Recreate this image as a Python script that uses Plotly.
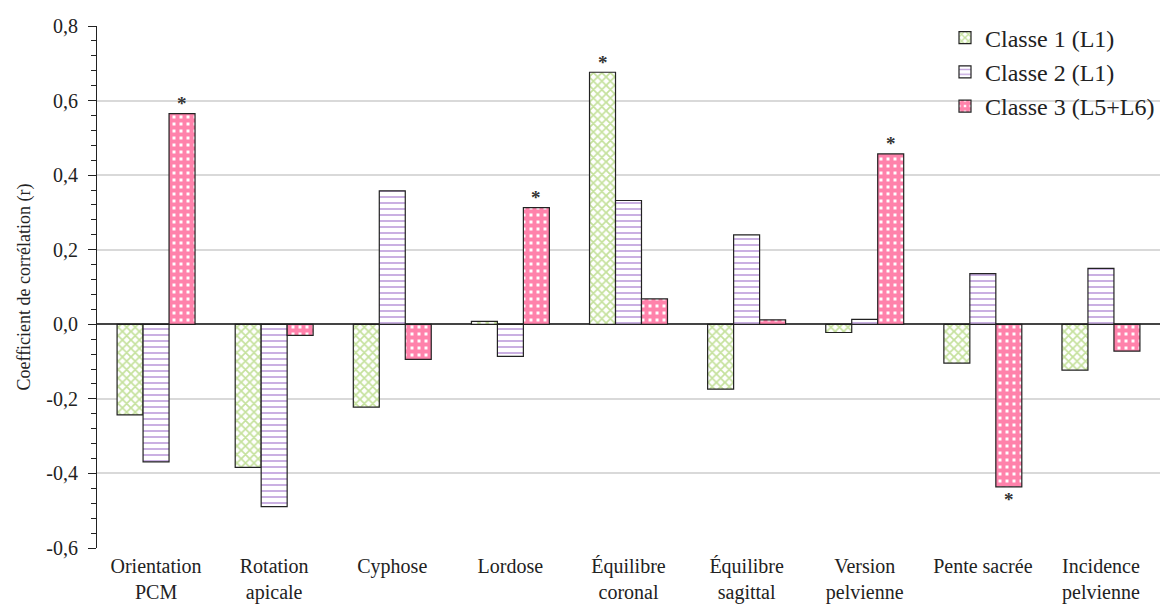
import plotly.graph_objects as go

categories = ["Orientation<br>PCM", "Rotation<br>apicale", "Cyphose", "Lordose",
              "Équilibre<br>coronal", "Équilibre<br>sagittal", "Version<br>pelvienne",
              "Pente sacrée", "Incidence<br>pelvienne"]
classe1 = [-0.243, -0.384, -0.222, 0.008, 0.676, -0.174, -0.022, -0.104, -0.123]
classe2 = [-0.369, -0.489, 0.358, -0.086, 0.332, 0.240, 0.013, 0.136, 0.150]
classe3 = [0.565, -0.030, -0.094, 0.313, 0.068, 0.012, 0.457, -0.436, -0.072]
series_names = ["Classe 1 (L1)", "Classe 2 (L1)", "Classe 3 (L5+L6)"]
tick_vals = [-0.6, -0.4, -0.2, 0.0, 0.2, 0.4, 0.6, 0.8]
tick_text = ["-0,6", "-0,4", "-0,2", "0,0", "0,2", "0,4", "0,6", "0,8"]
# significance markers: (series index, category index)
signif = [(2, 0), (2, 3), (0, 4), (2, 6), (2, 7)]

font = "Liberation Serif, Times New Roman, serif"
fig = go.Figure()
patterns = [
    dict(shape="x", fgcolor="#8cc43c", bgcolor="white", size=6, solidity=0.5),
    dict(shape="-", fgcolor="#8a4fbf", bgcolor="white", size=6, solidity=0.3),
    dict(shape="+", fgcolor="#ff0558", bgcolor="white", size=7, solidity=0.82),
]
all_series = [classe1, classe2, classe3]
for name, vals, pat in zip(series_names, all_series, patterns):
    fig.add_trace(go.Bar(
        x=categories, y=vals, name=name,
        marker=dict(pattern=pat, color="white", line=dict(color="#222222", width=1.2)),
    ))

W, H = 1160, 601
L, R, T, B = 89, 8, 16, 61
bargap = 0.34
bar_px = (W - L - R) / len(categories) * (1 - bargap) / 3
for si, ci in signif:
    v = all_series[si][ci]
    fig.add_annotation(
        x=categories[ci], y=v, xref="x", yref="y",
        text="<b>*</b>", showarrow=False,
        xshift=(si - 1) * bar_px,
        yshift=10 if v > 0 else -13,
        font=dict(family=font, size=19, color="#333333"),
    )

fig.update_layout(
    width=W, height=H,
    margin=dict(l=L, r=R, t=T, b=B),
    barmode="group", bargap=bargap, bargroupgap=0,
    plot_bgcolor="white", paper_bgcolor="white",
    font=dict(family=font, size=19, color="#222222"),
    legend=dict(x=1.0, y=1.02, xanchor="right", yanchor="top",
                font=dict(family=font, size=24, color="#222222"),
                bgcolor="rgba(255,255,255,0)", tracegroupgap=0, itemwidth=30),
    showlegend=True,
)
fig.update_yaxes(
    range=[-0.6, 0.8], tickvals=tick_vals, ticktext=tick_text,
    showgrid=True, gridcolor="#d9d9d9", gridwidth=1.5,
    zeroline=True, zerolinecolor="#444444", zerolinewidth=1.5,
    showline=True, linecolor="#222222", linewidth=1.2,
    ticks="outside", ticklen=8, tickcolor="#222222",
    minor=dict(dtick=0.04, ticks="outside", ticklen=5, tickcolor="#222222", showgrid=False),
    title=dict(text="Coefficient de corrélation (r)", font=dict(family=font, size=18), standoff=10),
    tickfont=dict(family=font, size=20),
    ticklabelstandoff=6,
)
fig.update_xaxes(
    showline=False, ticks="", tickfont=dict(family=font, size=20),
    ticklabelstandoff=4, automargin=False,
)
fig.write_html("out.html")
